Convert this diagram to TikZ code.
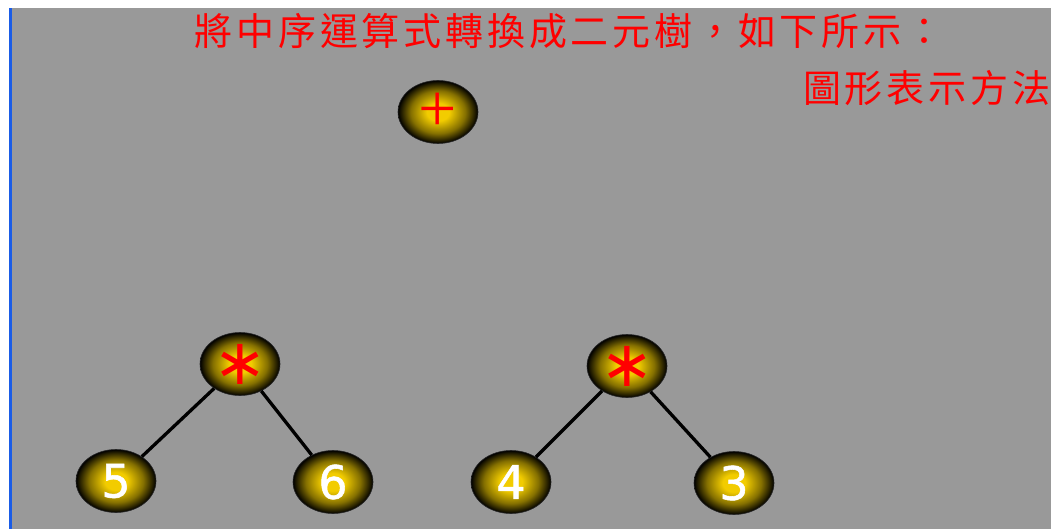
\documentclass[tikz,border=0pt]{standalone}
\usepackage{fontspec}
\newfontfamily\cjkfont{Noto Sans CJK TC}
\newfontfamily\dvfont{DejaVu Sans}
\newfontfamily\dvboldish[FakeBold=1.2]{DejaVu Sans}
\newfontfamily\serfont{Liberation Serif}
\usetikzlibrary{shapes.geometric}
\definecolor{bg}{HTML}{999999}
\definecolor{edgeblue}{HTML}{1A5CE6}
\definecolor{gold}{HTML}{F2CC00}
\pgfdeclareradialshading{ballgold}{\pgfpoint{0bp}{0bp}}{color(0bp)=(gold); color(7bp)=(gold); color(17bp)=(gold!55!black); color(25bp)=(black); color(50bp)=(black)}
\tikzset{
  treenode/.style={ellipse, minimum width=80pt, minimum height=63pt, inner sep=0pt,
    shading=ballgold, draw=black!85, line width=0.6pt},
  digit/.style={text=white, font=\dvboldish\fontsize{46}{46}\selectfont},
  mulop/.style={text=red, font=\dvfont\fontsize{64}{64}\selectfont},
  plusop/.style={text=red, font=\serfont\fontsize{68}{68}\selectfont},
  branch/.style={line width=3.3pt, black},
  redtext/.style={text=red, inner sep=0pt,
    font=\cjkfont\fontsize{38}{38}\selectfont\addfontfeature{LetterSpace=10}}
}
\begin{document}
\begin{tikzpicture}[x=1pt,y=-1pt]
\fill[white] (0,0) rectangle (1059,529);
\fill[bg] (11,8) rectangle (1051,529);
\fill[edgeblue] (9,8) rectangle (11.5,529);
\useasboundingbox (0,0) rectangle (1059,529);

\node[redtext] (title) at (569,31) {將中序運算式轉換成二元樹，如下所示：};
\node[redtext, anchor=west] (sub) at (803,88) {圖形表示方法};

\node[treenode, plusop] (plus) at (438,112) {\raisebox{-3pt}{+}};
\node[treenode, mulop] (m1) at (240,364) {∗};
\node[treenode, mulop] (m2) at (627,366) {∗};
\node[treenode, digit] (n5) at (116,481) {5};
\node[treenode, digit] (n6) at (333,482) {6};
\node[treenode, digit] (n4) at (511,482) {4};
\node[treenode, digit] (n3) at (734,483) {3};

\draw[branch] (m1) -- (n5);
\draw[branch] (m1) -- (n6);
\draw[branch] (m2) -- (n4);
\draw[branch] (m2) -- (n3);
\end{tikzpicture}
\end{document}
